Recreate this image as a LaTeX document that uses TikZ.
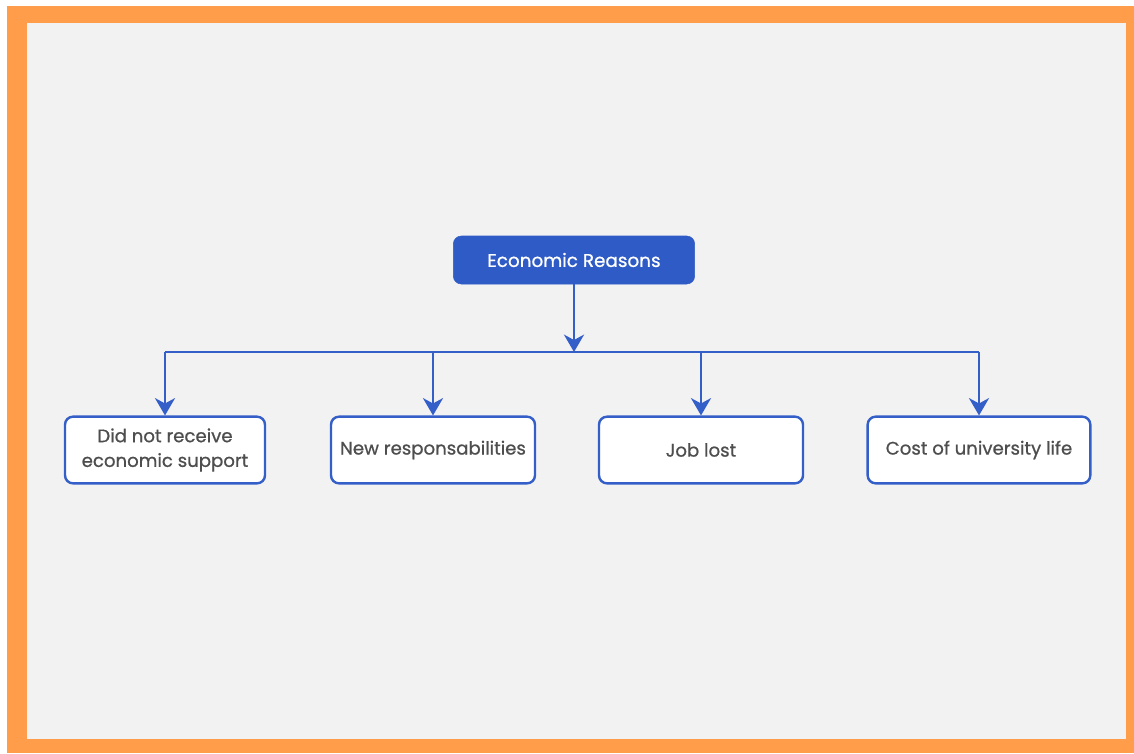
\documentclass[tikz,border=0pt]{standalone}
\usepackage{fontspec}
\setmainfont{Poppins}
\newfontfamily\boxfont{Poppins}[FakeBold=0.8]
\usetikzlibrary{positioning,arrows.meta}
\definecolor{frameorange}{RGB}{255,157,74}
\definecolor{paneGray}{RGB}{242,242,242}
\definecolor{reasonblue}{RGB}{46,91,197}
\definecolor{lineblue}{RGB}{52,94,200}
\definecolor{labelgray}{RGB}{78,78,78}

\begin{document}
\begin{tikzpicture} [
			x=0.75pt, y=-0.75pt,
			root/.style={rectangle, rounded corners=6pt, draw=reasonblue, fill=reasonblue, text=white,
				minimum width=181pt, minimum height=36pt, inner sep=2pt, font=\boxfont\fontsize{13.8}{16}\selectfont},
			leaf/.style={rectangle, rounded corners=6pt, draw=lineblue, line width=1.8pt, fill=white, text=labelgray,
				minimum height=50pt, inner sep=2pt, align=center, font=\boxfont\fontsize{13.6}{18.5}\selectfont},
			link/.style={draw=lineblue, line width=2.1pt},
			arrow/.style={link, -{Stealth[length=13pt, width=15pt, inset=4pt]}}
		]
		% frame and pane
		\useasboundingbox (0,0) rectangle (1134,753);
		\fill [frameorange] (7,6) rectangle (1134,753);
		\fill [paneGray] (27,23) rectangle (1126,739);

		\node at (574,260) [root] (econ) {Economic Reasons};

		\node at (165,450) [leaf, minimum width=150pt] (support) {Did not receive\\economic support};
		\node at (433,450) [leaf, minimum width=153pt] (duties)  {New responsabilities};
		\node at (701,450) [leaf, minimum width=153pt] (job)     {Job lost};
		\node at (979,450) [leaf, minimum width=167pt] (cost)    {Cost of university life};

		\coordinate (hub) at (574,352);
		\coordinate (left) at (165,352);
		\coordinate (right) at (979,352);

		\draw [arrow] (econ) -- (hub);
		\draw [link] (left) -- (right);
		\foreach \leafname in {support, duties, job, cost}
			\draw [arrow] (hub -| \leafname) -- (\leafname.north);
	\end{tikzpicture}
\end{document}
